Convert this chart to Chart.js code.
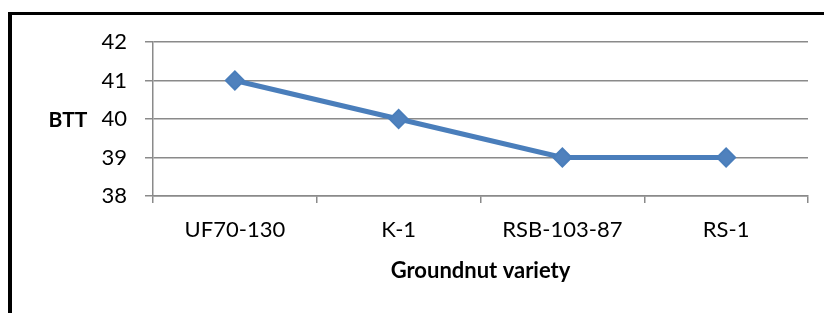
<!DOCTYPE html>
<html>
  <head>
    <script src="https://cdn.jsdelivr.net/npm/chart.js@4.4.0/dist/chart.umd.min.js"></script>
    <style>
      body { margin: 0; background: #fff; }
      #frame {
        position: absolute; left: 8px; top: 12px; width: 820px; height: 310px;
        border-top: 3px solid #000; border-left: 4px solid #000;
      }
      #wrap { position: absolute; left: 0; top: 0; width: 824px; height: 313px; }
    </style>
  </head>
  <body>
    <div id="frame"></div>
    <div id="wrap"><canvas id="chart-btt"></canvas></div>
    <script>
      // INPUT DATA

      const varieties = ["UF70-130", "K-1", "RSB-103-87", "RS-1"];
      const bttValues = [41, 40, 39, 39];
      const yTicks = [38, 39, 40, 41, 42];

      const yTitle = "BTT";
      const xTitle = "Groundnut variety";

      const fontFamily = "Lato, 'Open Sans', sans-serif";

      // y axis title drawn horizontally, like the original
      const sideTitle = {
        id: "sideTitle",
        afterDraw(chart) {
          const ctx = chart.ctx;
          ctx.save();
          ctx.font = "bold 21px " + fontFamily;
          ctx.fillStyle = "#000";
          ctx.textAlign = "center";
          ctx.textBaseline = "middle";
          ctx.fillText(yTitle, 68, 120);
          ctx.restore();
        }
      };

      const ctx = document.getElementById("chart-btt").getContext("2d");
      new Chart(ctx, {
        type: "line",
        data: {
          labels: varieties,
          datasets: [
            {
              label: yTitle,
              data: bttValues,
              borderColor: "#4A7EBB",
              backgroundColor: "#4F81BD",
              borderWidth: 5,
              pointStyle: "rectRot",
              pointRadius: 9,
              pointBorderWidth: 2,
              pointBorderColor: "#4A7EBB",
              pointBackgroundColor: "#4F81BD",
              tension: 0
            }
          ]
        },
        options: {
          responsive: true,
          maintainAspectRatio: false,
          animation: false,
          layout: { padding: { top: 42, right: 16, left: 0, bottom: 25 } },
          plugins: { legend: { display: false }, tooltip: { enabled: false } },
          scales: {
            x: {
              offset: true,
              grid: {
                offset: true,
                drawOnChartArea: false,
                drawTicks: true,
                tickLength: 7,
                color: "#8a8a8a",
                lineWidth: 1.5
              },
              border: { color: "#8a8a8a", width: 1.5 },
              ticks: { color: "#000", padding: 14, font: { family: fontFamily, size: 22 } },
              title: {
                display: true,
                text: xTitle,
                color: "#000",
                padding: { top: 4, bottom: 4 },
                font: { family: fontFamily, size: 22, weight: "bold" }
              },
              afterFit(scale) { scale.height = 92; }
            },
            y: {
              min: yTicks[0],
              max: yTicks[yTicks.length - 1],
              afterBuildTicks(scale) {
                scale.ticks = yTicks.map(function (v) { return { value: v }; });
              },
              grid: { color: "#8a8a8a", lineWidth: 1.5, tickLength: 8 },
              border: { color: "#8a8a8a", width: 1.5 },
              ticks: { color: "#000", padding: 18, font: { family: fontFamily, size: 22 } },
              afterFit(scale) { scale.width = 153; }
            }
          }
        },
        plugins: [sideTitle]
      });
    </script>
  </body>
</html>
